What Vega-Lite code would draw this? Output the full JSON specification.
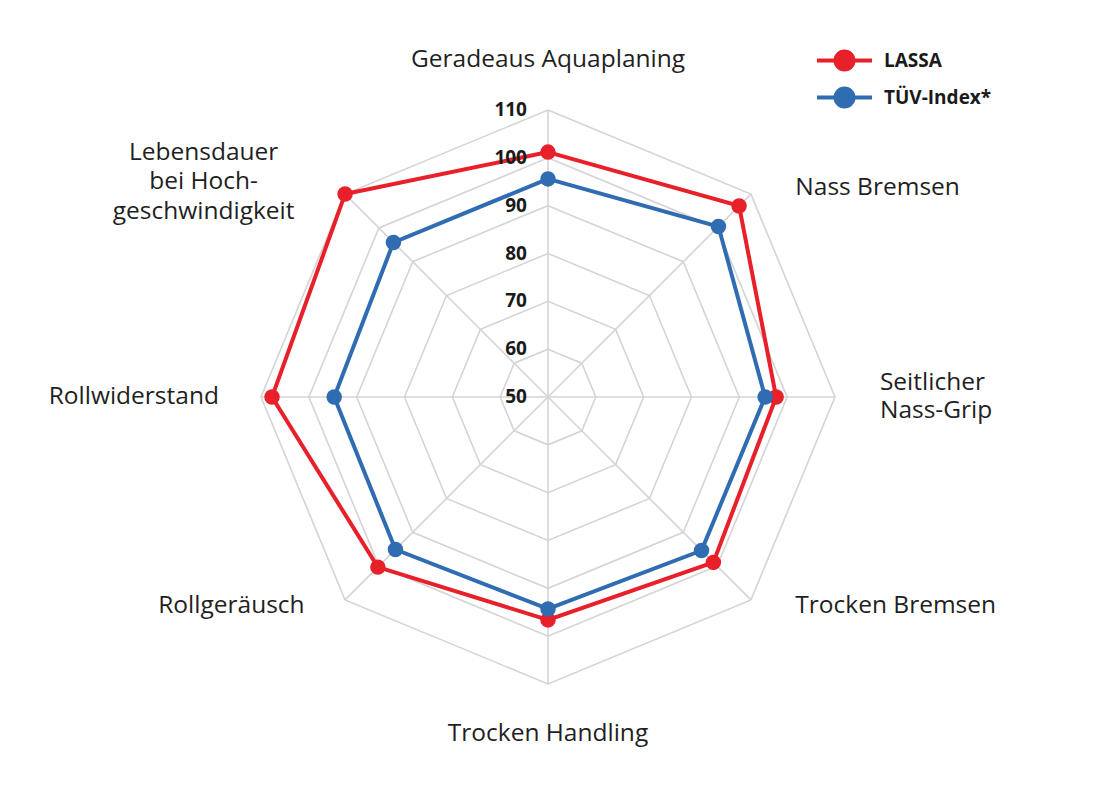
{
  "$schema": "https://vega.github.io/schema/vega-lite/v6.json",
  "width": 1100,
  "height": 794,
  "autosize": {"type": "none"},
  "padding": 0,
  "background": "white",
  "config": {"view": {"stroke": null}, "font": "Open Sans"},
  "datasets": {
    "axes": [
      {"axis": "Geradeaus Aquaplaning", "label": "Geradeaus Aquaplaning", "idx": 0},
      {"axis": "Nass Bremsen", "label": "Nass Bremsen", "idx": 1},
      {"axis": "Seitlicher Nass-Grip", "label": "Seitlicher\nNass-Grip", "idx": 2},
      {"axis": "Trocken Bremsen", "label": "Trocken Bremsen", "idx": 3},
      {"axis": "Trocken Handling", "label": "Trocken Handling", "idx": 4},
      {"axis": "Rollgeräusch", "label": "Rollgeräusch", "idx": 5},
      {"axis": "Rollwiderstand", "label": "Rollwiderstand", "idx": 6},
      {"axis": "Lebensdauer bei Hochgeschwindigkeit", "label": "Lebensdauer\nbei Hoch-\ngeschwindigkeit", "idx": 7}
    ],
    "scores": [
      {"series": "LASSA", "axis": "Geradeaus Aquaplaning", "value": 101.2},
      {"series": "LASSA", "axis": "Nass Bremsen", "value": 106.5},
      {"series": "LASSA", "axis": "Seitlicher Nass-Grip", "value": 97.7},
      {"series": "LASSA", "axis": "Trocken Bremsen", "value": 98.9},
      {"series": "LASSA", "axis": "Trocken Handling", "value": 96.6},
      {"series": "LASSA", "axis": "Rollgeräusch", "value": 100.3},
      {"series": "LASSA", "axis": "Rollwiderstand", "value": 107.7},
      {"series": "LASSA", "axis": "Lebensdauer bei Hochgeschwindigkeit", "value": 110},
      {"series": "TÜV-Index*", "axis": "Geradeaus Aquaplaning", "value": 95.6},
      {"series": "TÜV-Index*", "axis": "Nass Bremsen", "value": 100.4},
      {"series": "TÜV-Index*", "axis": "Seitlicher Nass-Grip", "value": 95.4},
      {"series": "TÜV-Index*", "axis": "Trocken Bremsen", "value": 95.4},
      {"series": "TÜV-Index*", "axis": "Trocken Handling", "value": 94.3},
      {"series": "TÜV-Index*", "axis": "Rollgeräusch", "value": 95.1},
      {"series": "TÜV-Index*", "axis": "Rollwiderstand", "value": 94.7},
      {"series": "TÜV-Index*", "axis": "Lebensdauer bei Hochgeschwindigkeit", "value": 95.7}
    ],
    "ticks": [
      {"level": 50}, {"level": 60}, {"level": 70}, {"level": 80}, {"level": 90}, {"level": 100}, {"level": 110}
    ],
    "grid": [
      {"level": 60, "idx": 0}, {"level": 60, "idx": 1}, {"level": 60, "idx": 2}, {"level": 60, "idx": 3}, {"level": 60, "idx": 4}, {"level": 60, "idx": 5}, {"level": 60, "idx": 6}, {"level": 60, "idx": 7},
      {"level": 70, "idx": 0}, {"level": 70, "idx": 1}, {"level": 70, "idx": 2}, {"level": 70, "idx": 3}, {"level": 70, "idx": 4}, {"level": 70, "idx": 5}, {"level": 70, "idx": 6}, {"level": 70, "idx": 7},
      {"level": 80, "idx": 0}, {"level": 80, "idx": 1}, {"level": 80, "idx": 2}, {"level": 80, "idx": 3}, {"level": 80, "idx": 4}, {"level": 80, "idx": 5}, {"level": 80, "idx": 6}, {"level": 80, "idx": 7},
      {"level": 90, "idx": 0}, {"level": 90, "idx": 1}, {"level": 90, "idx": 2}, {"level": 90, "idx": 3}, {"level": 90, "idx": 4}, {"level": 90, "idx": 5}, {"level": 90, "idx": 6}, {"level": 90, "idx": 7},
      {"level": 100, "idx": 0}, {"level": 100, "idx": 1}, {"level": 100, "idx": 2}, {"level": 100, "idx": 3}, {"level": 100, "idx": 4}, {"level": 100, "idx": 5}, {"level": 100, "idx": 6}, {"level": 100, "idx": 7},
      {"level": 110, "idx": 0}, {"level": 110, "idx": 1}, {"level": 110, "idx": 2}, {"level": 110, "idx": 3}, {"level": 110, "idx": 4}, {"level": 110, "idx": 5}, {"level": 110, "idx": 6}, {"level": 110, "idx": 7}
    ]
  },
  "layer": [
    {
      "data": {"name": "grid"},
      "transform": [
        {"calculate": "datum.idx * PI / 4", "as": "ang"},
        {"calculate": "(datum.level - 50) * sin(datum.ang)", "as": "gx"},
        {"calculate": "(datum.level - 50) * cos(datum.ang)", "as": "gy"}
      ],
      "mark": {"type": "line", "interpolate": "linear-closed", "stroke": "#d4d4d4", "strokeWidth": 1.6},
      "encoding": {
        "x": {"field": "gx", "type": "quantitative", "axis": null, "scale": {"domain": [-114.57, 115.41], "nice": false, "zero": false}},
        "y": {"field": "gy", "type": "quantitative", "axis": null, "scale": {"domain": [-83.0, 83.0], "nice": false, "zero": false}},
        "detail": {"field": "level", "type": "nominal"},
        "order": {"field": "idx", "type": "quantitative"}
      }
    },
    {
      "data": {"name": "axes"},
      "transform": [
        {"calculate": "datum.idx * PI / 4", "as": "ang"},
        {"calculate": "0", "as": "x0"},
        {"calculate": "0", "as": "y0"},
        {"calculate": "60 * sin(datum.ang)", "as": "sx"},
        {"calculate": "60 * cos(datum.ang)", "as": "sy"}
      ],
      "mark": {"type": "rule", "stroke": "#d4d4d4", "strokeWidth": 1.6},
      "encoding": {
        "x": {"field": "x0", "type": "quantitative", "axis": null, "scale": {"domain": [-114.57, 115.41], "nice": false, "zero": false}},
        "y": {"field": "y0", "type": "quantitative", "axis": null, "scale": {"domain": [-83.0, 83.0], "nice": false, "zero": false}},
        "x2": {"field": "sx"},
        "y2": {"field": "sy"}
      }
    },
    {
      "data": {"name": "scores"},
      "transform": [
        {"lookup": "axis", "from": {"data": {"name": "axes"}, "key": "axis", "fields": ["idx"]}},
        {"calculate": "datum.idx * PI / 4", "as": "ang"},
        {"calculate": "(datum.value - 50) * sin(datum.ang)", "as": "px"},
        {"calculate": "(datum.value - 50) * cos(datum.ang)", "as": "py"}
      ],
      "mark": {"type": "line", "interpolate": "linear-closed", "strokeWidth": 4},
      "encoding": {
        "x": {"field": "px", "type": "quantitative", "axis": null, "scale": {"domain": [-114.57, 115.41], "nice": false, "zero": false}},
        "y": {"field": "py", "type": "quantitative", "axis": null, "scale": {"domain": [-83.0, 83.0], "nice": false, "zero": false}},
        "order": {"field": "idx", "type": "quantitative"},
        "color": {"field": "series", "type": "nominal", "scale": {"domain": ["LASSA", "TÜV-Index*"], "range": ["#E8202A", "#306CB2"]}}
      }
    },
    {
      "data": {"name": "scores"},
      "transform": [
        {"lookup": "axis", "from": {"data": {"name": "axes"}, "key": "axis", "fields": ["idx"]}},
        {"calculate": "datum.idx * PI / 4", "as": "ang"},
        {"calculate": "(datum.value - 50) * sin(datum.ang)", "as": "px"},
        {"calculate": "(datum.value - 50) * cos(datum.ang)", "as": "py"}
      ],
      "mark": {"type": "point", "filled": true, "opacity": 1, "size": 240, "shape": "circle"},
      "encoding": {
        "x": {"field": "px", "type": "quantitative", "axis": null, "scale": {"domain": [-114.57, 115.41], "nice": false, "zero": false}},
        "y": {"field": "py", "type": "quantitative", "axis": null, "scale": {"domain": [-83.0, 83.0], "nice": false, "zero": false}},
        "color": {
          "field": "series", "type": "nominal",
          "scale": {"domain": ["LASSA", "TÜV-Index*"], "range": ["#E8202A", "#306CB2"]},
          "legend": {
            "title": null,
            "orient": "none",
            "legendX": 835,
            "legendY": 51,
            "symbolType": "M-5.5,0L5.5,0M-1.8,0A1.8,1.8,0,1,0,1.8,0A1.8,1.8,0,1,0,-1.8,0Z",
            "symbolSize": 100,
            "symbolStrokeWidth": 4,
            "symbolOpacity": 1,
            "labelFont": "Open Sans",
            "labelFontSize": 19,
            "labelFontWeight": "bold",
            "labelColor": "#1a1a1a",
            "labelOffset": 30,
            "rowPadding": 2,
            "encode": {"symbols": {"update": {"fill": {"scale": "color", "field": "value"}, "stroke": {"scale": "color", "field": "value"}}}}
          }
        }
      }
    },
    {
      "data": {"name": "ticks"},
      "transform": [
        {"calculate": "0", "as": "tx"},
        {"calculate": "datum.level - 50", "as": "ty"}
      ],
      "mark": {"type": "text", "align": "right", "baseline": "middle", "dx": -21, "font": "Open Sans", "fontSize": 19, "fontWeight": "bold", "color": "#1a1a1a"},
      "encoding": {
        "x": {"field": "tx", "type": "quantitative", "axis": null, "scale": {"domain": [-114.57, 115.41], "nice": false, "zero": false}},
        "y": {"field": "ty", "type": "quantitative", "axis": null, "scale": {"domain": [-83.0, 83.0], "nice": false, "zero": false}},
        "text": {"field": "level", "type": "quantitative"}
      }
    },
    {
      "data": {"name": "axes"},
      "transform": [
        {"filter": "datum.idx == 0 || datum.idx == 4"},
        {"calculate": "datum.idx * PI / 4", "as": "ang"},
        {"calculate": "70.45 * sin(datum.ang)", "as": "lx"},
        {"calculate": "70.45 * cos(datum.ang)", "as": "ly"}
      ],
      "mark": {"type": "text", "align": "center", "baseline": "middle", "font": "Open Sans", "fontSize": 24.5, "color": "#1f1f1f"},
      "encoding": {
        "x": {"field": "lx", "type": "quantitative", "axis": null, "scale": {"domain": [-114.57, 115.41], "nice": false, "zero": false}},
        "y": {"field": "ly", "type": "quantitative", "axis": null, "scale": {"domain": [-83.0, 83.0], "nice": false, "zero": false}},
        "text": {"field": "label"}
      }
    },
    {
      "data": {"name": "axes"},
      "transform": [
        {"filter": "datum.idx == 2"},
        {"calculate": "datum.idx * PI / 4", "as": "ang"},
        {"calculate": "69.4 * sin(datum.ang)", "as": "lx"},
        {"calculate": "69.4 * cos(datum.ang)", "as": "ly"}
      ],
      "mark": {"type": "text", "align": "left", "baseline": "middle", "dy": -14, "lineBreak": "\n", "lineHeight": 28, "font": "Open Sans", "fontSize": 24.5, "color": "#1f1f1f"},
      "encoding": {
        "x": {"field": "lx", "type": "quantitative", "axis": null, "scale": {"domain": [-114.57, 115.41], "nice": false, "zero": false}},
        "y": {"field": "ly", "type": "quantitative", "axis": null, "scale": {"domain": [-83.0, 83.0], "nice": false, "zero": false}},
        "text": {"field": "label"}
      }
    },
    {
      "data": {"name": "axes"},
      "transform": [
        {"filter": "datum.idx == 6"},
        {"calculate": "datum.idx * PI / 4", "as": "ang"},
        {"calculate": "68.8 * sin(datum.ang)", "as": "lx"},
        {"calculate": "68.8 * cos(datum.ang)", "as": "ly"}
      ],
      "mark": {"type": "text", "align": "right", "baseline": "middle", "font": "Open Sans", "fontSize": 24.5, "color": "#1f1f1f"},
      "encoding": {
        "x": {"field": "lx", "type": "quantitative", "axis": null, "scale": {"domain": [-114.57, 115.41], "nice": false, "zero": false}},
        "y": {"field": "ly", "type": "quantitative", "axis": null, "scale": {"domain": [-83.0, 83.0], "nice": false, "zero": false}},
        "text": {"field": "label"}
      }
    },
    {
      "data": {"name": "axes"},
      "transform": [
        {"filter": "datum.idx == 1 || datum.idx == 3"},
        {"calculate": "datum.idx * PI / 4", "as": "ang"},
        {"calculate": "61.9 * sin(datum.ang)", "as": "lx"},
        {"calculate": "61.9 * cos(datum.ang)", "as": "ly"}
      ],
      "mark": {"type": "text", "align": "left", "baseline": "middle", "dx": 38, "font": "Open Sans", "fontSize": 24.5, "color": "#1f1f1f"},
      "encoding": {
        "x": {"field": "lx", "type": "quantitative", "axis": null, "scale": {"domain": [-114.57, 115.41], "nice": false, "zero": false}},
        "y": {"field": "ly", "type": "quantitative", "axis": null, "scale": {"domain": [-83.0, 83.0], "nice": false, "zero": false}},
        "text": {"field": "label"}
      }
    },
    {
      "data": {"name": "axes"},
      "transform": [
        {"filter": "datum.idx == 5"},
        {"calculate": "datum.idx * PI / 4", "as": "ang"},
        {"calculate": "61.9 * sin(datum.ang)", "as": "lx"},
        {"calculate": "61.9 * cos(datum.ang)", "as": "ly"}
      ],
      "mark": {"type": "text", "align": "right", "baseline": "middle", "dx": -34, "font": "Open Sans", "fontSize": 24.5, "color": "#1f1f1f"},
      "encoding": {
        "x": {"field": "lx", "type": "quantitative", "axis": null, "scale": {"domain": [-114.57, 115.41], "nice": false, "zero": false}},
        "y": {"field": "ly", "type": "quantitative", "axis": null, "scale": {"domain": [-83.0, 83.0], "nice": false, "zero": false}},
        "text": {"field": "label"}
      }
    },
    {
      "data": {"name": "axes"},
      "transform": [
        {"filter": "datum.idx == 7"},
        {"calculate": "datum.idx * PI / 4", "as": "ang"},
        {"calculate": "61.9 * sin(datum.ang)", "as": "lx"},
        {"calculate": "61.9 * cos(datum.ang)", "as": "ly"}
      ],
      "mark": {"type": "text", "align": "center", "baseline": "middle", "dx": -135, "dy": -35, "lineBreak": "\n", "lineHeight": 29.5, "font": "Open Sans", "fontSize": 24.5, "color": "#1f1f1f"},
      "encoding": {
        "x": {"field": "lx", "type": "quantitative", "axis": null, "scale": {"domain": [-114.57, 115.41], "nice": false, "zero": false}},
        "y": {"field": "ly", "type": "quantitative", "axis": null, "scale": {"domain": [-83.0, 83.0], "nice": false, "zero": false}},
        "text": {"field": "label"}
      }
    }
  ]
}
